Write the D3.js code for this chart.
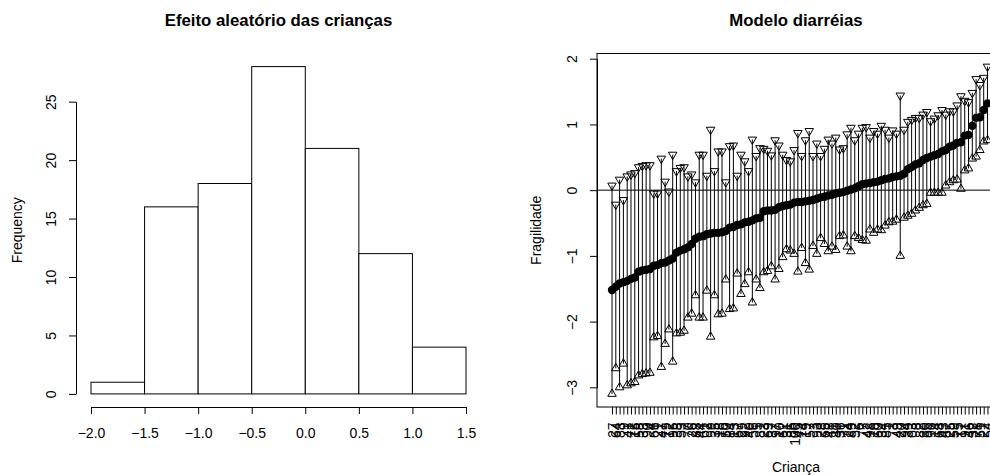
<!DOCTYPE html>
<html>
<head>
<meta charset="utf-8">
<script src="https://cdn.jsdelivr.net/npm/d3@7"></script>
<style>
  body { margin: 0; background: #fff; }
  svg text { font-family: "Liberation Sans", Arial, Helvetica, sans-serif; }
</style>
</head>
<body>
<svg id="chart" width="990" height="475"></svg>
<script>
// Histogram of the child random effects
const histBreaks = [-2, -1.5, -1, -0.5, 0, 0.5, 1, 1.5];
const histCounts = [1, 16, 18, 28, 21, 12, 4];
const histYTicks = [0, 5, 10, 15, 20, 25];

// Caterpillar plot, children sorted by estimate
const childIds = [
  27, 64, 83, 9, 41, 72, 15, 58, 33, 90, 4, 66, 21, 47, 79, 12, 95, 38, 53, 7,
  70, 26, 88, 44, 61, 2, 99, 35, 18, 76, 50, 84, 13, 67, 29, 92, 40, 56, 5, 81,
  23, 69, 37, 97, 10, 62, 31, 86, 100, 45, 74, 19, 57, 3, 93, 28, 65, 48, 11, 80,
  36, 71, 24, 89, 52, 6, 77, 42, 98, 16, 60, 34, 85, 1, 73, 49, 20, 94, 39, 63,
  8, 82, 30, 55, 96, 14, 68, 43, 87, 25, 59, 75, 17, 91, 46, 32, 78, 51, 22, 54
];
const estimate = [
  -1.52, -1.47, -1.42, -1.40, -1.38, -1.35, -1.33, -1.24, -1.22, -1.21,
  -1.20, -1.15, -1.14, -1.11, -1.10, -1.07, -1.04, -0.95, -0.92, -0.90,
  -0.87, -0.82, -0.74, -0.71, -0.70, -0.67, -0.66, -0.65, -0.65, -0.64,
  -0.62, -0.57, -0.56, -0.53, -0.52, -0.49, -0.48, -0.46, -0.43, -0.42,
  -0.32, -0.31, -0.31, -0.30, -0.26, -0.24, -0.23, -0.22, -0.19, -0.18,
  -0.18, -0.17, -0.16, -0.15, -0.13, -0.11, -0.10, -0.08, -0.07, -0.05,
  -0.04, -0.03, -0.01, 0.01, 0.03, 0.06, 0.09, 0.10, 0.11, 0.12,
  0.13, 0.15, 0.17, 0.18, 0.20, 0.21, 0.22, 0.25, 0.32, 0.35,
  0.39, 0.41, 0.46, 0.49, 0.51, 0.53, 0.55, 0.59, 0.61, 0.66,
  0.68, 0.72, 0.73, 0.83, 0.84, 0.98, 1.10, 1.11, 1.22, 1.32
];
const upper = [
  0.07, -0.22, 0.16, -0.15, 0.21, 0.24, 0.26, 0.35, 0.37, 0.38,
  0.38, -0.05, -0.05, 0.48, 0.13, -0.02, 0.54, 0.29, 0.34, 0.35,
  0.21, 0.24, 0.12, 0.54, 0.54, 0.22, 0.92, 0.29, 0.59, 0.59,
  0.12, 0.67, 0.68, 0.22, 0.54, 0.44, 0.29, 0.77, 0.52, 0.64,
  0.63, 0.60, 0.53, 0.76, 0.68, 0.54, 0.46, 0.44, 0.61, 0.87,
  0.52, 0.76, 0.90, 0.52, 0.71, 0.52, 0.63, 0.77, 0.71, 0.80,
  0.62, 0.64, 0.85, 0.95, 0.76, 0.86, 0.95, 0.96, 0.80, 0.90,
  0.86, 0.98, 0.92, 0.80, 0.91, 0.86, 1.44, 0.92, 1.04, 1.07,
  1.10, 1.10, 1.15, 1.19, 1.05, 1.09, 1.14, 1.22, 1.15, 1.20,
  1.20, 1.29, 1.43, 1.36, 1.34, 1.48, 1.69, 1.60, 1.71, 1.88
];
const lower = [
  -3.10, -2.71, -3.00, -2.64, -2.97, -2.94, -2.92, -2.82, -2.80, -2.79,
  -2.78, -2.24, -2.22, -2.69, -2.34, -2.12, -2.61, -2.18, -2.17, -2.14,
  -1.94, -1.88, -1.60, -1.94, -1.94, -1.53, -2.23, -1.60, -1.89, -1.88,
  -1.36, -1.81, -1.80, -1.27, -1.58, -1.43, -1.25, -1.71, -1.36, -1.49,
  -1.25, -1.23, -1.16, -1.36, -1.20, -1.02, -0.90, -0.92, -0.97, -1.24,
  -0.88, -1.11, -1.21, -0.85, -0.97, -0.73, -0.82, -0.93, -0.86, -0.91,
  -0.70, -0.69, -0.86, -0.93, -0.70, -0.73, -0.76, -0.77, -0.60, -0.65,
  -0.60, -0.61, -0.54, -0.49, -0.48, -0.45, -1.00, -0.42, -0.39, -0.36,
  -0.31, -0.27, -0.23, -0.21, -0.04, -0.04, -0.04, -0.04, 0.07, 0.12,
  0.15, 0.16, 0.02, 0.30, 0.33, 0.48, 0.51, 0.61, 0.74, 0.76
];
const fragYTicks = [-3, -2, -1, 0, 1, 2];

const minus = s => s.replace("-", "\u2212");
// R style 4% axis extension
function ext(lo, hi) {
  const d = (hi - lo) * 0.04;
  return [lo - d, hi + d];
}

const svg = d3.select("#chart");
const plotTop = 53.5, plotBottom = 407;
const fontSize = 14, titleSize = 16.8;

// ---------- left panel: histogram ----------
const xH = d3.scaleLinear().domain(ext(histBreaks[0], histBreaks[histBreaks.length - 1])).range([76, 481]);
const yH = d3.scaleLinear().domain(ext(0, d3.max(histCounts))).range([plotBottom, plotTop]);

const bins = histCounts.map((c, i) => ({ x0: histBreaks[i], x1: histBreaks[i + 1], n: c }));
svg.append("g")
  .selectAll("rect")
  .data(bins)
  .enter()
  .append("rect")
    .attr("x", d => xH(d.x0))
    .attr("y", d => yH(d.n))
    .attr("width", d => xH(d.x1) - xH(d.x0))
    .attr("height", d => yH(0) - yH(d.n))
    .attr("fill", "#fff")
    .attr("stroke", "#000")
    .attr("stroke-width", 1);

// x axis only spans the ticks, like R
const xHAxisScale = d3.scaleLinear()
  .domain([histBreaks[0], histBreaks[histBreaks.length - 1]])
  .range([xH(histBreaks[0]), xH(histBreaks[histBreaks.length - 1])]);
const gxH = svg.append("g")
  .attr("transform", "translate(0," + plotBottom + ")")
  .call(d3.axisBottom(xHAxisScale)
    .tickValues(histBreaks)
    .tickSize(7)
    .tickSizeOuter(0)
    .tickPadding(14)
    .tickFormat(d => minus(d3.format(".1f")(d))));

const yHAxisScale = d3.scaleLinear()
  .domain([histYTicks[0], histYTicks[histYTicks.length - 1]])
  .range([yH(histYTicks[0]), yH(histYTicks[histYTicks.length - 1])]);
const gyH = svg.append("g")
  .attr("transform", "translate(76,0)")
  .call(d3.axisLeft(yHAxisScale).tickValues(histYTicks).tickSize(7).tickSizeOuter(0));

// ---------- right panel: caterpillar ----------
const idx = d3.range(1, estimate.length + 1);
const xR = d3.scaleLinear().domain(ext(1, estimate.length)).range([597, 1002.5]);
const yR = d3.scaleLinear().domain(ext(d3.min(lower), d3.max(upper))).range([plotBottom, plotTop]);

const plotR = svg.append("g");
plotR.append("rect")
  .attr("x", xR.range()[0])
  .attr("y", plotTop)
  .attr("width", xR.range()[1] - xR.range()[0])
  .attr("height", plotBottom - plotTop)
  .attr("fill", "none")
  .attr("stroke", "#000");

plotR.append("line")
  .attr("x1", xR.range()[0]).attr("x2", xR.range()[1])
  .attr("y1", yR(0)).attr("y2", yR(0))
  .attr("stroke", "#000");

plotR.append("g")
  .selectAll("line")
  .data(idx)
  .enter()
  .append("line")
    .attr("x1", d => xR(d)).attr("x2", d => xR(d))
    .attr("y1", d => yR(lower[d - 1]))
    .attr("y2", d => yR(upper[d - 1]))
    .attr("stroke", "#000")
    .attr("stroke-width", 1);

// open triangles, R pch 2 (up) and pch 6 (down)
const tr = 4.9, tyc = 2.45, thw = 4.25;
plotR.append("g")
  .selectAll("path")
  .data(idx)
  .enter()
  .append("path")
    .attr("d", d => {
      const x = xR(d), y = yR(lower[d - 1]);
      return `M${x},${y - tr}L${x + thw},${y + tyc}L${x - thw},${y + tyc}Z`;
    })
    .attr("fill", "none")
    .attr("stroke", "#000");

plotR.append("g")
  .selectAll("path")
  .data(idx)
  .enter()
  .append("path")
    .attr("d", d => {
      const x = xR(d), y = yR(upper[d - 1]);
      return `M${x},${y + tr}L${x + thw},${y - tyc}L${x - thw},${y - tyc}Z`;
    })
    .attr("fill", "none")
    .attr("stroke", "#000");

plotR.append("g")
  .selectAll("circle")
  .data(idx)
  .enter()
  .append("circle")
    .attr("cx", d => xR(d))
    .attr("cy", d => yR(estimate[d - 1]))
    .attr("r", 4.2)
    .attr("fill", "#000");

// x axis with one rotated label per child
const gxR = svg.append("g")
  .attr("transform", "translate(0," + plotBottom + ")")
  .call(d3.axisBottom(xR).tickValues(idx).tickSize(7.5).tickSizeOuter(0)
    .tickFormat(d => String(childIds[d - 1])));
gxR.select(".domain").remove();

const yRAxisScale = d3.scaleLinear()
  .domain([fragYTicks[0], fragYTicks[fragYTicks.length - 1]])
  .range([yR(fragYTicks[0]), yR(fragYTicks[fragYTicks.length - 1])]);
const gyR = svg.append("g")
  .attr("transform", "translate(597,0)")
  .call(d3.axisLeft(yRAxisScale).tickValues(fragYTicks).tickSize(7).tickSizeOuter(0)
    .tickFormat(d => minus(String(d))));

// common axis styling
[gxH, gyH, gxR, gyR].forEach(g => {
  g.selectAll("text").attr("font-size", fontSize).attr("fill", "#000")
    .style("font-family", '"Liberation Sans", Arial, sans-serif');
  g.selectAll("line, path").attr("stroke", "#000");
});
gxR.selectAll(".tick text")
  .attr("y", null)
  .attr("dy", "0.36em")
  .attr("text-anchor", "end")
  .attr("transform", "translate(0,15.5) rotate(-90)");
[gyH, gyR].forEach(g => {
  g.selectAll(".tick text")
    .attr("x", 0).attr("dy", 0)
    .attr("text-anchor", "middle")
    .attr("transform", "translate(-20,0) rotate(-90)");
});

// titles and axis labels
svg.append("text")
  .attr("x", (76 + 481) / 2).attr("y", 26)
  .attr("text-anchor", "middle")
  .attr("font-size", titleSize).attr("font-weight", "bold")
  .text("Efeito aleatório das crianças");
svg.append("text")
  .attr("x", 796).attr("y", 26)
  .attr("text-anchor", "middle")
  .attr("font-size", titleSize).attr("font-weight", "bold")
  .text("Modelo diarréias");
svg.append("text")
  .attr("transform", "translate(22," + (plotTop + plotBottom) / 2 + ") rotate(-90)")
  .attr("text-anchor", "middle")
  .attr("font-size", fontSize)
  .text("Frequency");
svg.append("text")
  .attr("transform", "translate(540.5," + (plotTop + plotBottom) / 2 + ") rotate(-90)")
  .attr("text-anchor", "middle")
  .attr("font-size", fontSize)
  .text("Fragilidade");
svg.append("text")
  .attr("x", 796).attr("y", 472)
  .attr("text-anchor", "middle")
  .attr("font-size", fontSize)
  .text("Criança");
</script>
</body>
</html>
